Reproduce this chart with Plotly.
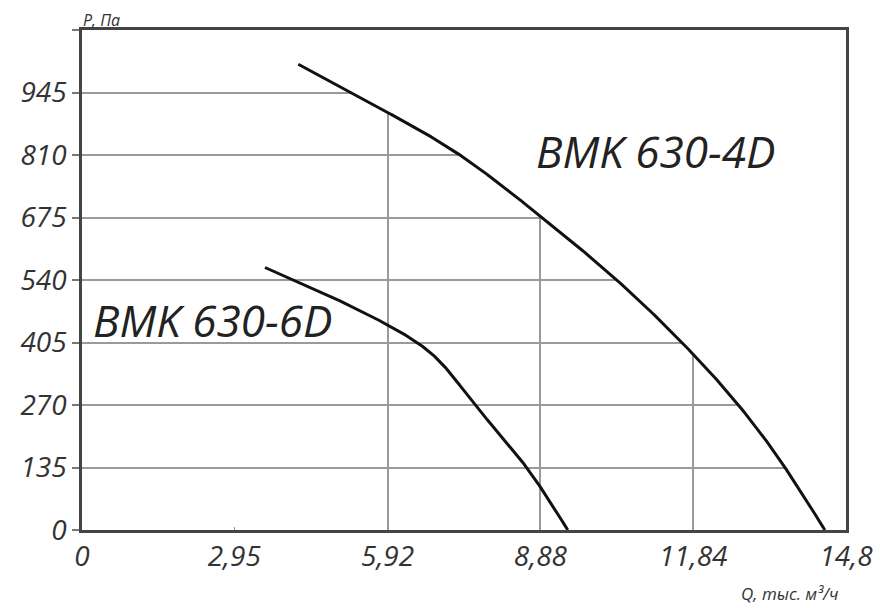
import numpy as np
import plotly.graph_objects as go

# ---- data ----
q_4d = [4.19, 5.19, 7.32, 8.91, 10.36, 11.62, 13.52, 14.39]
p_4d = [1006, 945, 810, 675, 540, 405, 151, 0]

q_6d = [3.545, 5.92, 6.45, 6.94, 7.6, 8.6, 9.41]
p_6d = [567, 443, 408, 363, 272, 137, 0]

x_ticks = [0, 2.95, 5.92, 8.88, 11.84, 14.8]
x_ticktext = ["0", "2,95", "5,92", "8,88", "11,84", "14,8"]
x_grid = [5.92, 8.88, 11.84, 14.8]
y_ticks = [0, 135, 270, 405, 540, 675, 810, 945, 1080]
y_ticktext = ["0", "135", "270", "405", "540", "675", "810", "945", ""]

label_4d = "BMK 630-4D"
label_6d = "BMK 630-6D"
x_title = "Q, тыс. м³/ч"
y_title = "Р, Па"

X_MAX = 14.8
Y_MAX = 1080


def natural_spline(x, y, n=300):
    x = np.asarray(x, float)
    y = np.asarray(y, float)
    k = len(x)
    h = np.diff(x)
    A = np.zeros((k, k))
    b = np.zeros(k)
    A[0, 0] = 1
    A[-1, -1] = 1
    for i in range(1, k - 1):
        A[i, i - 1] = h[i - 1]
        A[i, i] = 2 * (h[i - 1] + h[i])
        A[i, i + 1] = h[i]
        b[i] = 3 * ((y[i + 1] - y[i]) / h[i] - (y[i] - y[i - 1]) / h[i - 1])
    c = np.linalg.solve(A, b)
    bb = (y[1:] - y[:-1]) / h - h * (2 * c[:-1] + c[1:]) / 3
    d = (c[1:] - c[:-1]) / (3 * h)
    xs = np.linspace(x[0], x[-1], n)
    idx = np.clip(np.searchsorted(x, xs) - 1, 0, k - 2)
    t = xs - x[idx]
    ys = y[idx] + bb[idx] * t + c[idx] * t**2 + d[idx] * t**3
    return xs, ys


x4, y4 = natural_spline(q_4d, p_4d)
x6, y6 = natural_spline(q_6d, p_6d)

fig = go.Figure()

# white mask over the grid above the 4D curve
mask_x = [x4[0]] + list(x4) + [X_MAX, X_MAX]
mask_y = [Y_MAX] + list(y4) + [0, Y_MAX]
fig.add_trace(go.Scatter(x=mask_x, y=mask_y, fill="toself", fillcolor="white",
                         line=dict(width=0), mode="lines", hoverinfo="skip",
                         showlegend=False))

fig.add_trace(go.Scatter(x=x4, y=y4, mode="lines",
                         line=dict(color="#111111", width=3), showlegend=False))
fig.add_trace(go.Scatter(x=x6, y=y6, mode="lines",
                         line=dict(color="#111111", width=3), showlegend=False))

# invisible trace on the grid axis
fig.add_trace(go.Scatter(x=[0, X_MAX], y=[0, 0], xaxis="x2", mode="lines",
                         line=dict(width=0), hoverinfo="skip", showlegend=False))

tick_font = dict(family="Open Sans", size=28, color="#333333", style="italic")

fig.update_layout(
    width=886, height=600,
    margin=dict(l=74, r=48, t=22, b=78),
    paper_bgcolor="white", plot_bgcolor="white",
    xaxis=dict(range=[0, X_MAX], tickvals=x_ticks, ticktext=x_ticktext,
               showgrid=False, zeroline=False, showline=True, mirror=True,
               linecolor="#444444", linewidth=2.5,
               ticks="inside", ticklen=3, tickcolor="#999999",
               tickfont=tick_font, ticklabelstandoff=0),
    xaxis2=dict(range=[0, X_MAX], overlaying="x", tickvals=x_grid,
                showticklabels=False, showgrid=True, gridcolor="#9a9a9a",
                gridwidth=1.5, zeroline=False, showline=False, ticks=""),
    yaxis=dict(range=[0, Y_MAX], tickvals=y_ticks, ticktext=y_ticktext,
               showgrid=True, gridcolor="#9a9a9a", gridwidth=1.5,
               zeroline=False, showline=True, mirror=True,
               linecolor="#444444", linewidth=2.5,
               ticks="outside", ticklen=7, tickcolor="#777777", tickwidth=2,
               tickfont=tick_font, ticklabelstandoff=0),
    annotations=[
        dict(text=label_4d, x=11.1, y=818, xref="x", yref="y",
             showarrow=False,
             font=dict(family="Open Sans", size=44, color="#222222", style="italic")),
        dict(text=label_6d, x=2.53, y=454, xref="x", yref="y",
             showarrow=False,
             font=dict(family="Open Sans", size=44, color="#222222", style="italic")),
        dict(text=y_title, x=0, y=1, xref="paper", yref="paper",
             xanchor="left", yanchor="bottom", yshift=-2, borderpad=0,
             showarrow=False,
             font=dict(family="Open Sans", size=16, color="#333333", style="italic")),
        dict(text=x_title, x=1, y=0, xref="paper", yref="paper",
             xanchor="right", yanchor="top", xshift=-6, yshift=-50, showarrow=False,
             font=dict(family="Open Sans", size=17, color="#333333", style="italic")),
    ],
)

fig.write_html("out.html")
